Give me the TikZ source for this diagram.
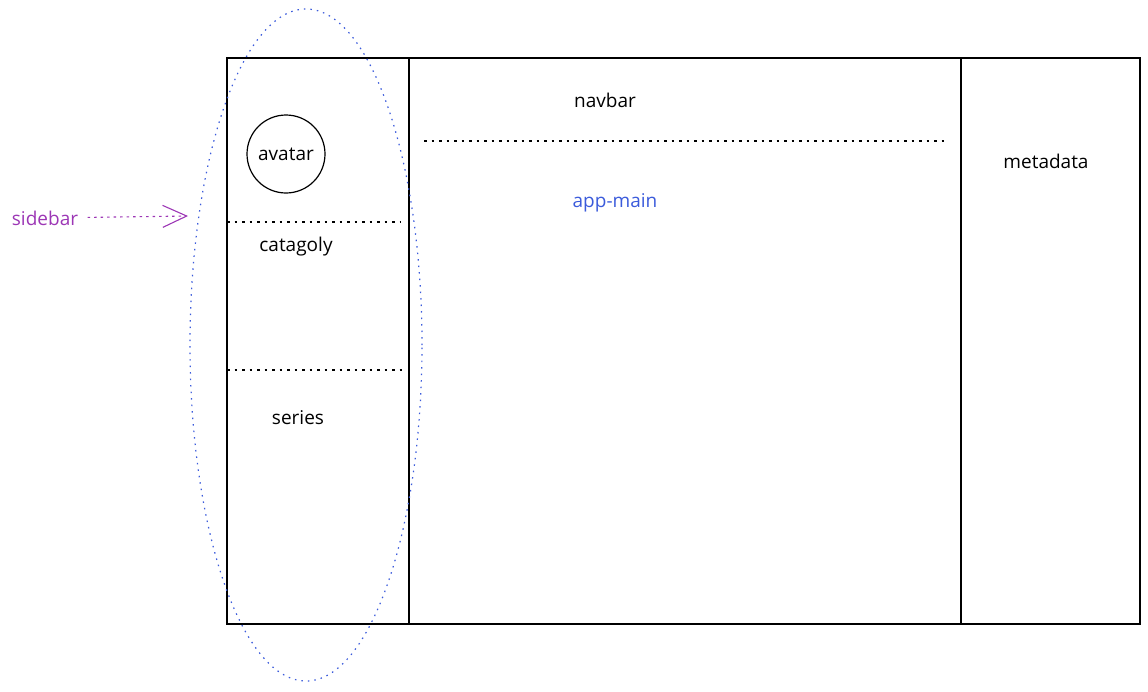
\documentclass[tikz,border=0pt]{standalone}
\usepackage{fontspec}
\setmainfont{Open Sans}
\usetikzlibrary{arrows.meta}
\usetikzlibrary{shapes.geometric}
\definecolor{grape}{HTML}{9C36B5}
\definecolor{indigo}{HTML}{3B5BDB}

\begin{document}
\begin{tikzpicture}[x=1pt, y=-1pt, every node/.style={font=\fontsize{19}{22}\selectfont}]
\tikzset{
        panel/.style={draw, line width=1.2pt, inner sep=0pt, minimum height=566pt},
        divider/.style={line width=1.2pt, dash pattern=on 2.5pt off 5pt},
        ring/.style={draw=indigo, ellipse, line width=1.2pt, dash pattern=on 1.5pt off 5pt, inner sep=0pt},
        pointer/.style={draw=grape, line width=1.1pt, dash pattern=on 2.5pt off 4pt, shorten <=6pt, -{Straight Barb[length=24pt, width=22pt]}},
    }
  \useasboundingbox (0,0) rectangle (1148,691);
  % page frame
  \node[panel, minimum width=182pt] (sidebar) at (318,341) {};
  \node[panel, minimum width=552pt] (appmain) at (685,341) {};
  \node[panel, minimum width=179pt] (metadata) at (1050.5,341) {};
  % sidebar parts
  \node[draw, circle, line width=1.2pt, minimum size=78pt, inner sep=0pt] (avatar) at (286,154) {avatar};
  \draw[divider] (227,222) -- (400,222);
  \draw[divider] (227,370) -- (402,370);
  \node (catagoly) at (296,247) {catagoly};
  \node (series) at (298,418) {series};
  % main area
  \draw[divider] (424,141) -- (946,141);
  \node (navbar) at (605,100) {navbar};
  \node[text=indigo] (appmainText) at (615,203) {app-main};
  \node (metadataText) at (1046,161) {metadata};
  % sidebar marker
  \node[ring, minimum width=232pt, minimum height=672pt] (sidebarRing) at (306,345) {};
  \node[text=grape] (sidebarText) at (45,218) {sidebar};
  \coordinate (sidebarTip) at (188,216);
  \draw[pointer] (sidebarText) -- (sidebarTip);
\end{tikzpicture}
\end{document}
